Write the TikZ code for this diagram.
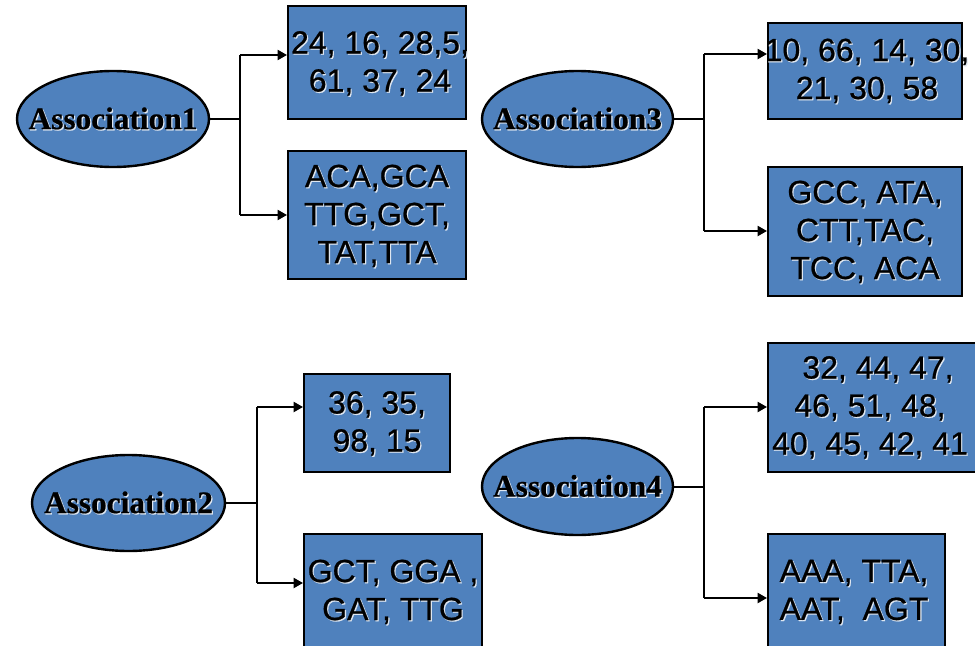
\documentclass[tikz,border=0pt]{standalone}
\usepackage{fontspec}
\setmainfont{Liberation Sans}
\newfontfamily\cellfont{Liberation Sans}[FakeBold=0.7]
\newfontfamily\assocfont{Liberation Serif}[BoldFeatures={FakeBold=0.6}]
\usetikzlibrary{arrows.meta,shapes.geometric}
\definecolor{boxblue}{RGB}{79,129,189}
\definecolor{glow}{RGB}{222,230,240}
% text with a faint light drop shadow
\newcommand\shd[1]{\makebox[0pt][l]{\kern0.9pt\raisebox{-0.9pt}{\color{glow}#1}}#1}

\begin{document}
\begin{tikzpicture}[x=0.75pt,y=-0.75pt,
  cell/.style={draw=black, line width=1.5pt, fill=boxblue, inner sep=0pt},
  assoc/.style={ellipse, draw=black, line width=1.8pt, fill=boxblue, inner sep=0pt},
  cellText/.style={inner sep=0pt, align=center, font=\cellfont\fontsize{24pt}{28.5pt}\selectfont},
  assocText/.style={inner sep=0pt, font=\assocfont\bfseries\fontsize{23.5pt}{28pt}\selectfont},
  link/.style={draw=black, line width=1.5pt},
  arr/.style={link, -{Triangle[length=7pt,width=7.5pt]}}]
\useasboundingbox (0,0) rectangle (975,646);
\clip (0,0) rectangle (975,646);

% ---- association ellipses
\node[assoc, minimum width=192*0.75pt, minimum height=96*0.75pt] (e1) at (113,119) {};
\node[assocText] (l1) at (e1.center) {\shd{Association1}};
\node[assoc, minimum width=191*0.75pt, minimum height=96*0.75pt] (e3) at (577.5,119) {};
\node[assocText] (l3) at (e3.center) {\shd{Association3}};
\node[assoc, minimum width=193*0.75pt, minimum height=96*0.75pt] (e2) at (128.5,503) {};
\node[assocText] (l2) at (e2.center) {\shd{Association2}};
\node[assoc, minimum width=191*0.75pt, minimum height=97*0.75pt] (e4) at (577.5,486.5) {};
\node[assocText] (l4) at (e4.center) {\shd{Association4}};

% ---- value boxes
\node[cell, minimum width=178*0.75pt, minimum height=113*0.75pt] (b1) at (377,62.5) {};
\node[cell, minimum width=178*0.75pt, minimum height=128*0.75pt] (b2) at (377,215) {};
\node[cell, minimum width=194*0.75pt, minimum height=96*0.75pt] (b3) at (865,71) {};
\node[cell, minimum width=194*0.75pt, minimum height=129*0.75pt] (b4) at (865,231.5) {};
\node[cell, minimum width=146*0.75pt, minimum height=98*0.75pt] (b5) at (377,423) {};
\node[cell, minimum width=178*0.75pt, minimum height=118*0.75pt] (b6) at (393,593) {};
\node[cell, minimum width=212*0.75pt, minimum height=129*0.75pt] (b7) at (874,407.5) {};
\node[cell, minimum width=177*0.75pt, minimum height=118*0.75pt] (b8) at (856.5,593) {};

\node[cellText] (t1) at (380,64) {\shd{24, 16, 28,5,}\\\shd{61, 37, 24}};
\node[cellText] (t2) at (377,216.5) {\shd{ACA,GCA}\\\shd{TTG,GCT,}\\\shd{TAT,TTA}};
\node[cellText] (t3) at (867,71.5) {\shd{10, 66, 14, 30,}\\\shd{21, 30, 58}};
\node[cellText] (t4) at (865,232.5) {\shd{GCC, ATA,}\\\shd{CTT,TAC,}\\\shd{TCC, ACA}};
\node[cellText] (t5) at (377,424) {\shd{36, 35,}\\\shd{98, 15}};
\node[cellText] (t6) at (393,592.5) {\shd{GCT, GGA ,}\\\shd{GAT, TTG}};
\node[cellText] (t7) at (870,408) {\hspace*{12pt}\shd{32, 44, 47,}\\\shd{46, 51, 48,}\\\shd{40, 45, 42, 41}};
\node[cellText] (t8) at (854,592.5) {\shd{AAA, TTA,}\\\shd{AAT,\ \ AGT}};

% ---- branch points
\coordinate (j1t) at (240,55);  \coordinate (j1b) at (240,215);
\coordinate (j3t) at (704,54);  \coordinate (j3b) at (704,231);
\coordinate (j2t) at (257,407); \coordinate (j2b) at (257,583);
\coordinate (j4t) at (704,407); \coordinate (j4b) at (704,598);

% ---- connectors
\draw[link] (e1.east) -- (e1.east -| j1t);
\draw[link] (j1t) -- (j1b);
\draw[arr] (j1t) -- (j1t -| b1.west);
\draw[arr] (j1b) -- (j1b -| b2.west);

\draw[link] (e3.east) -- (e3.east -| j3t);
\draw[link] (j3t) -- (j3b);
\draw[arr] (j3t) -- (j3t -| b3.west);
\draw[arr] (j3b) -- (j3b -| b4.west);

\draw[link] (e2.east) -- (e2.east -| j2t);
\draw[link] (j2t) -- (j2b);
\draw[arr] (j2t) -- (j2t -| b5.west);
\draw[arr] (j2b) -- (j2b -| b6.west);

\draw[link] (e4.east) -- (e4.east -| j4t);
\draw[link] (j4t) -- (j4b);
\draw[arr] (j4t) -- (j4t -| b7.west);
\draw[arr] (j4b) -- (j4b -| b8.west);
\end{tikzpicture}
\end{document}
